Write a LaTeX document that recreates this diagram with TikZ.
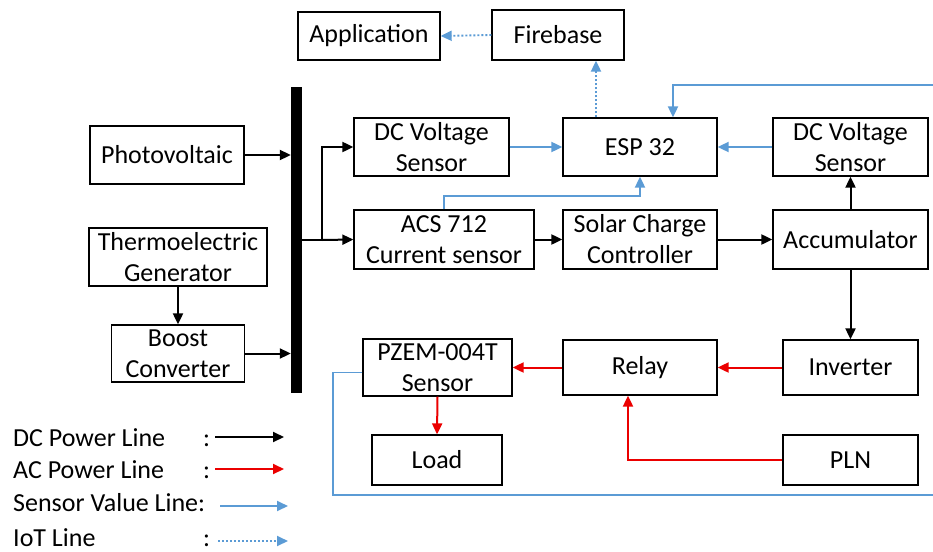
\documentclass[tikz,border=0pt]{standalone}
\usepackage{fontspec}
\setmainfont{Carlito}
\usetikzlibrary{arrows.meta}
\definecolor{svblue}{RGB}{91,155,213}
\definecolor{acred}{RGB}{235,0,0}
\tikzset{
  blk/.style={draw=black, line width=1.3pt, inner sep=0pt, align=center, font=\fontsize{26}{31}\selectfont},
  tip/.style={-{Triangle[length=11pt,width=10pt]}},
  dcl/.style={draw=black, line width=2pt, tip},
  dcplain/.style={draw=black, line width=2pt},
  acl/.style={draw=acred, line width=2pt, tip},
  svl/.style={draw=svblue, line width=1.9pt, tip},
  svplain/.style={draw=svblue, line width=1.9pt},
  iotl/.style={draw=svblue, line width=1.9pt, dash pattern=on 2pt off 2pt, tip},
  legtext/.style={anchor=base west, inner sep=0pt, font=\fontsize{26}{31}\selectfont},
}
\begin{document}
\begin{tikzpicture}[x=1pt,y=-1pt]
\useasboundingbox (0,0) rectangle (933,551);
\begin{scope}
\clip (0,0) rectangle (933,551);
% boxes
\node[blk, minimum width=142pt, minimum height=48pt] (app) at (369,36) {Application};
\node[blk, minimum width=132pt, minimum height=50pt] (fire) at (558,35) {Firebase};
\node[blk, minimum width=154pt, minimum height=58pt] (pv) at (167,155) {Photovoltaic};
\node[blk, minimum width=178pt, minimum height=58pt] (teg) at (178,257) {Thermoelectric\\Generator};
\node[blk, minimum width=133pt, minimum height=57pt] (boost) at (178,353.5) {Boost\\Converter};
\node[fill=black, draw=none, inner sep=0pt, minimum width=11pt, minimum height=306pt] (bus) at (296.5,240) {};
\node[blk, minimum width=155pt, minimum height=58pt] (dcv1) at (431.5,147) {DC Voltage\\Sensor};
\node[blk, minimum width=154pt, minimum height=58pt] (esp) at (640,147) {ESP 32};
\node[blk, minimum width=155pt, minimum height=58pt] (dcv2) at (850.5,147) {DC Voltage\\Sensor};
\node[blk, minimum width=180pt, minimum height=59pt] (acs) at (444,239.5) {ACS 712\\Current sensor};
\node[blk, minimum width=154pt, minimum height=59pt] (scc) at (640,239.5) {Solar Charge\\Controller};
\node[blk, minimum width=155pt, minimum height=59pt] (acc) at (850.5,239.5) {Accumulator};
\node[blk, minimum width=149pt, minimum height=57pt] (pzem) at (437.5,367.5) {PZEM-004T\\Sensor};
\node[blk, minimum width=154pt, minimum height=55pt] (relay) at (640,367.5) {Relay};
\node[blk, minimum width=135pt, minimum height=55pt] (inv) at (850.5,367.5) {Inverter};
\node[blk, minimum width=130pt, minimum height=50pt] (load) at (437,460) {Load};
\node[blk, minimum width=135pt, minimum height=50pt] (pln) at (850.5,460) {PLN};
% DC power lines
\draw[dcl] (pv.east) -- (pv.east -| bus.west);
\draw[dcl] (teg.south) -- (boost.north);
\draw[dcl] (boost.east) -- (boost.east -| bus.west);
\coordinate (j) at (322,240);
\draw[dcplain] (bus.east |- j) -- (j);
\draw[dcl] (j) |- (dcv1.west);
\draw[dcl] (j) -- (acs.west);
\draw[dcl] (acs.east) -- (scc.west);
\draw[dcl] (scc.east) -- (acc.west);
\draw[dcl] (acc.north) -- (dcv2.south);
\draw[dcl] (acc.south) -- (inv.north);
% sensor lines
\draw[svl] (dcv1.east) -- (esp.west);
\draw[svl] (dcv2.west) -- (esp.east);
\draw[svl] (acs.north) -- ++(0,-13) -| (esp.south);
\coordinate (rtop) at (940,85);
\coordinate (rbot) at (940,495);
\draw[svl] (rtop) -| ([xshift=33pt]esp.north);
\draw[svplain] ([yshift=-5pt]pzem.west) -| (333,495) -- (rbot);
% IoT lines
\draw[iotl] ([xshift=-44pt]esp.north) -- ([xshift=-44pt]esp.north |- fire.south);
\draw[iotl] (fire.west) -- (app.east);
% AC lines
\draw[acl] (inv.west) -- (relay.east);
\draw[acl] (relay.west) -- (pzem.east);
\draw[acl] (pln.west) -| ([xshift=-12pt]relay.south);
\draw[acl] (pzem.south) -- (load.north);
\end{scope}
% legend
\node[legtext] (l1) at (13,446) {DC Power Line};
\node[legtext] (l2) at (13,478) {AC Power Line};
\node[legtext] (l3) at (13,511) {Sensor Value Line:};
\node[legtext] (l4) at (13,546) {IoT Line};
\node[legtext] (c1) at (203,446) {:};
\node[legtext] (c2) at (203,478) {:};
\node[legtext] (c4) at (203,546) {:};
\coordinate (a1s) at (215,437); \coordinate (a1e) at (284,437);
\coordinate (a2s) at (215,469); \coordinate (a2e) at (284,469);
\coordinate (a3s) at (220,506); \coordinate (a3e) at (288,506);
\coordinate (a4s) at (218,541); \coordinate (a4e) at (288,541);
\draw[dcl] (a1s) -- (a1e);
\draw[acl] (a2s) -- (a2e);
\draw[svl] (a3s) -- (a3e);
\draw[iotl] (a4s) -- (a4e);
\end{tikzpicture}
\end{document}
